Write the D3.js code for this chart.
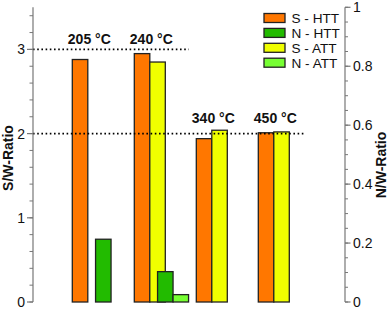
<!DOCTYPE html>
<html>
<head>
<meta charset="utf-8">
<script src="https://cdn.jsdelivr.net/npm/d3@7"></script>
<style>
  html, body { margin: 0; padding: 0; background: #fff; }
  svg { display: block; font-family: "Liberation Sans", Arial, sans-serif; }
</style>
</head>
<body>
<svg id="chart" width="389" height="309"></svg>
<script>
// ---- data ----
const categories = ["205 °C", "240 °C", "340 °C", "450 °C"];
const sHTT = [2.88, 2.95, 1.94, 2.01];      // S/W-Ratio (left axis)
const sATT = [null, 2.85, 2.04, 2.02];      // S/W-Ratio (left axis)
const nHTT = [0.213, 0.103, 0, 0];          // N/W-Ratio (right axis)
const nATT = [null, 0.025, null, null];     // N/W-Ratio (right axis)
const labelLevel = [3.07, 3.07, 2.13, 2.13]; // S/W level of temperature labels
const refLines = [3, 2];                    // dotted reference lines (S/W)
const refLineEnd = ["240 °C", "450 °C"];    // category where each dotted line ends
const leftTicks = [0, 1, 2, 3];
const rightTicks = [0, 0.2, 0.4, 0.6, 0.8, 1];
const seriesNames = ["S - HTT", "N - HTT", "S - ATT", "N - ATT"];

// ---- style ----
const colors = {"S - HTT": "#ff7700", "N - HTT": "#22bb00", "S - ATT": "#f0ff00", "N - ATT": "#77ff33"};
const svg = d3.select("#chart");

const yS = d3.scaleLinear().domain([0, 3.5]).range([302, 7.3]);
const yN = d3.scaleLinear().domain([0, 1]).range([302, 7.3]);
const x = d3.scaleBand().domain(categories).range([72.3, 289.3]).paddingInner(0.5).paddingOuter(0);
const w = x.bandwidth() / 2;

const axL = 33, axR = 345;

// bars
const series = [
  {name: "S - HTT", vals: sHTT, y: yS, off: 0},
  {name: "S - ATT", vals: sATT, y: yS, off: 1},
  {name: "N - HTT", vals: nHTT, y: yN, off: 1.5},
  {name: "N - ATT", vals: nATT, y: yN, off: 2.5}
];
series.forEach(s => {
  const data = categories.map((c, i) => ({c, v: s.vals[i]})).filter(d => d.v !== null);
  svg.append("g").selectAll("rect").data(data).join("rect")
    .attr("x", d => x(d.c) + s.off * w)
    .attr("y", d => s.y(d.v))
    .attr("width", w)
    .attr("height", d => s.y(0) - s.y(d.v))
    .attr("fill", colors[s.name])
    .attr("stroke", d => d.v === 0 ? "#666" : "#222")
    .attr("stroke-width", 1.3);
});

// dotted reference lines
refLines.forEach((r, i) => {
  const endX = x(refLineEnd[i]) + 3 * w + (i === 1 ? -1 : 8);
  svg.append("line")
    .attr("x1", axL).attr("x2", endX)
    .attr("y1", yS(r)).attr("y2", yS(r))
    .attr("stroke", "#000").attr("stroke-width", 1.6)
    .attr("stroke-dasharray", "1.6,2.6");
});

// temperature labels
svg.append("g").selectAll("text").data(categories).join("text")
  .attr("x", (c) => x(c) + w + 1.5)
  .attr("y", (c, i) => yS(labelLevel[i]))
  .attr("text-anchor", "middle")
  .attr("font-size", 14).attr("font-weight", "bold").attr("fill", "#111")
  .text(c => c);

// left axis
const gL = svg.append("g").attr("transform", `translate(${axL},0)`);
gL.append("line").attr("y1", yS(0)).attr("y2", yS(3.5)).attr("stroke", "#777").attr("stroke-width", 1.2);
gL.selectAll(".mn").data(d3.range(0, 3.51, 0.2)).join("line")
  .attr("x1", -3.5).attr("x2", 0).attr("y1", d => yS(d)).attr("y2", d => yS(d))
  .attr("stroke", "#777").attr("stroke-width", 1);
gL.selectAll(".mj").data(leftTicks).join("line")
  .attr("x1", -6).attr("x2", 0).attr("y1", d => yS(d)).attr("y2", d => yS(d))
  .attr("stroke", "#777").attr("stroke-width", 1.2);
gL.selectAll("text").data(leftTicks).join("text")
  .attr("x", -8).attr("y", d => yS(d) + 5)
  .attr("text-anchor", "end").attr("font-size", 14).attr("fill", "#111")
  .text(d => d3.format("d")(d));

// right axis
const gR = svg.append("g").attr("transform", `translate(${axR},0)`);
gR.append("line").attr("y1", yN(0)).attr("y2", yN(1)).attr("stroke", "#777").attr("stroke-width", 1.2);
gR.selectAll(".mn").data(d3.range(0, 1.001, 0.05)).join("line")
  .attr("x1", 0).attr("x2", 3).attr("y1", d => yN(d)).attr("y2", d => yN(d))
  .attr("stroke", "#777").attr("stroke-width", 1);
gR.selectAll(".mj").data(rightTicks).join("line")
  .attr("x1", 0).attr("x2", 5.5).attr("y1", d => yN(d)).attr("y2", d => yN(d))
  .attr("stroke", "#777").attr("stroke-width", 1.2);
gR.selectAll("text").data(rightTicks).join("text")
  .attr("x", 8).attr("y", d => yN(d) + 5)
  .attr("text-anchor", "start").attr("font-size", 14).attr("fill", "#111")
  .text(d => d === 0 || d === 1 ? d3.format("d")(d) : d3.format(".1f")(d));

// axis titles
svg.append("text")
  .attr("transform", "translate(13,158) rotate(-90)")
  .attr("text-anchor", "middle").attr("font-size", 14).attr("font-weight", "bold").attr("fill", "#111")
  .text("S/W-Ratio");
svg.append("text")
  .attr("transform", "translate(386,165) rotate(-90)")
  .attr("text-anchor", "middle").attr("font-size", 14).attr("font-weight", "bold").attr("fill", "#111")
  .text("N/W-Ratio");

// legend
const lg = svg.append("g").attr("transform", "translate(264,13.5)");
seriesNames.forEach((n, i) => {
  lg.append("rect").attr("x", 0).attr("y", i * 14.9).attr("width", 21).attr("height", 9)
    .attr("fill", colors[n]).attr("stroke", "#222").attr("stroke-width", 1.3);
  lg.append("text").attr("x", 27.5).attr("y", i * 14.9 + 9.8)
    .attr("font-size", 13.6).attr("fill", "#111").text(n);
});
</script>
</body>
</html>
